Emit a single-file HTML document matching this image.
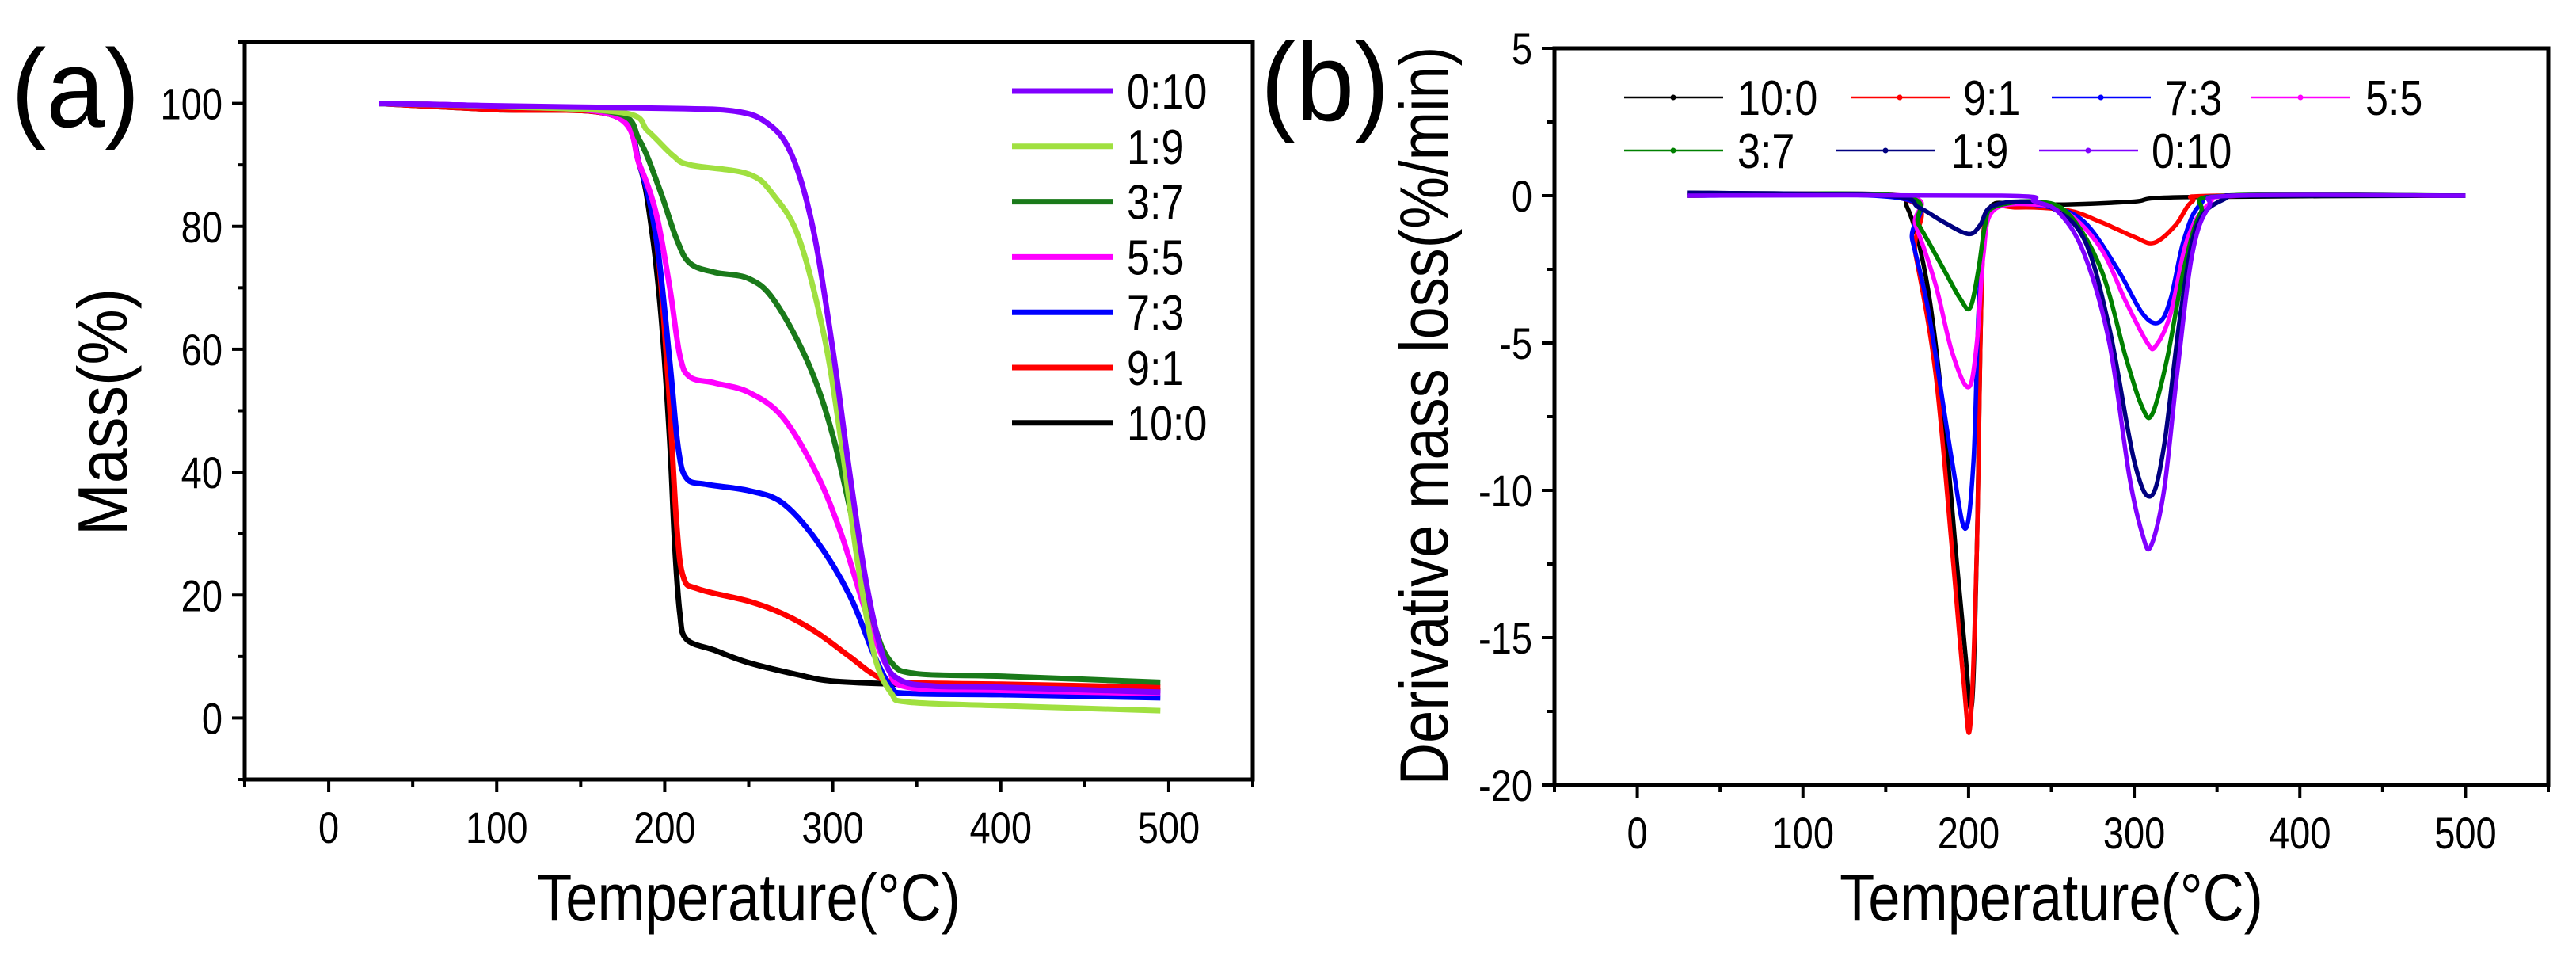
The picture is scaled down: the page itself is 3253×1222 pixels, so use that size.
<!DOCTYPE html>
<html><head><meta charset="utf-8"><style>
body{margin:0;background:#fff}
svg text{font-family:"Liberation Sans",sans-serif}
</style></head><body>
<svg id="fig" width="3253" height="1217" xmlns="http://www.w3.org/2000/svg">
<rect width="3253" height="1217" fill="#fff"/>
<g id="pa"></g>
<g id="pb"></g>
</svg>
<script>
const tgaNames=["10:0","9:1","7:3","5:5","3:7","1:9","0:10"];
const tgaColors=["#000000","#ff0000","#0000ff","#ff00ff","#1a7a1a","#a0e040","#8000ff"];
const tga10_0=[[30,100],[100,99],[170,98],[185,90],[192,80],[198,65],[203,45],[206,28],[209,17],[213,12.8],[230,11],[250,9],[280,7],[300,6],[340,5.5],[400,5],[495,4.5]];
const tga9_1=[[30,100],[100,99],[170,98],[185,90],[195,78],[202,55],[207,32],[211,23],[220,21],[250,19],[270,17],[290,14],[310,10],[325,7],[340,5.8],[400,5.5],[495,5]];
const tga7_3=[[30,100],[100,99.5],[170,98],[185,90],[195,78],[203,58],[208,44],[213,39],[225,38],[250,37],[270,35],[290,29],[310,20],[325,10],[335,5],[345,4],[400,3.8],[495,3.3]];
const tga5_5=[[30,100],[100,99.5],[170,98],[185,90],[195,82],[203,70],[209,59],[215,55.5],[230,54.5],[250,53],[270,49],[290,40],[305,30],[320,17],[333,8],[345,5],[400,4.5],[495,4]];
const tga3_7=[[30,100],[100,99.5],[170,98.5],[185,94],[197,86],[207,78],[215,74],[230,72.5],[250,71.5],[265,68],[285,58],[300,46],[315,28],[325,15],[335,9],[350,7.2],[400,6.8],[495,5.8]];
const tga1_9=[[30,100],[100,99.5],[175,98.5],[190,95.5],[205,91.5],[215,90],[250,88.5],[265,85],[280,78],[295,62],[305,45],[315,25],[325,10],[335,4],[345,2.6],[400,2],[495,1.2]];
const tga0_10=[[30,100],[100,99.6],[200,99.2],[240,98.8],[260,97],[275,92],[288,80],[300,60],[310,40],[320,22],[330,10],[340,6.2],[360,5.2],[400,5],[495,4.2]];
const tgaSeries=[tga10_0,tga9_1,tga7_3,tga5_5,tga3_7,tga1_9,tga0_10];
const tgaLegendOrder=[6,5,4,3,2,1,0];

const dtgColors=["#000000","#ff0000","#0000ff","#ff00ff","#008000","#000080","#8000ff"];
const dtg10_0=[[30,0.1],[150,0],[163,-0.4],[175,-3],[185,-7.5],[193,-12.5],[198,-15.5],[202,-17.3],[205,-12],[208,-3],[212,-0.5],[230,-0.3],[260,-0.3],[300,-0.2],[330,-0.05],[500,0]];
const dtg9_1=[[30,0],[160,-0.1],[168,-2],[180,-6],[190,-12],[197,-16.5],[201,-18],[205,-12],[208,-3],[212,-0.6],[230,-0.4],[260,-0.5],[280,-0.9],[300,-1.4],[312,-1.6],[325,-1],[335,-0.2],[350,0],[500,0]];
const dtg7_3=[[30,0],[160,-0.1],[166,-1.5],[176,-4],[190,-9],[198,-11.3],[203,-9],[206,-4],[210,-1],[220,-0.3],[250,-0.4],[270,-0.9],[290,-2.5],[305,-4],[315,-4.3],[322,-3.5],[330,-1.5],[340,-0.3],[360,0],[500,0]];
const dtg5_5=[[30,0],[160,0],[168,-1],[180,-3],[190,-5.3],[200,-6.5],[205,-5],[209,-2],[215,-0.5],[240,-0.3],[260,-0.6],[280,-1.8],[295,-3.6],[308,-5],[313,-5.1],[322,-4],[332,-1.5],[345,-0.3],[365,0],[500,0]];
const dtg3_7=[[30,0],[158,0],[170,-1],[185,-2.5],[195,-3.5],[201,-3.8],[206,-2.5],[210,-1],[215,-0.4],[240,-0.2],[260,-0.6],[280,-2.5],[295,-5.5],[305,-7.2],[311,-7.4],[320,-5.5],[330,-2.5],[340,-0.6],[355,0],[500,0]];
const dtg1_9=[[30,0.1],[150,0],[170,-0.4],[185,-0.9],[200,-1.3],[207,-1],[213,-0.4],[230,-0.2],[250,-0.4],[270,-1.5],[285,-4.5],[300,-9],[310,-10.2],[318,-8.5],[328,-4],[338,-1],[355,-0.1],[370,0],[500,0]];
const dtg0_10=[[30,0],[220,0],[240,-0.2],[255,-0.6],[270,-2],[285,-5],[297,-9.5],[305,-11.5],[310,-11.9],[318,-10],[326,-6],[335,-2],[345,-0.4],[360,0],[500,0]];
const dtgSeries=[dtg10_0,dtg9_1,dtg7_3,dtg5_5,dtg3_7,dtg1_9,dtg0_10];
const dtgLegendOrder=[0,1,2,3,4,5,6];

const xTicks=[0,100,200,300,400,500];
const yTicksA=[0,20,40,60,80,100];
const yTicksB=[5,0,-5,-10,-15,-20];

const NS="http://www.w3.org/2000/svg";
function el(tag,attrs,parent,txt){const e=document.createElementNS(NS,tag);for(const k in attrs)e.setAttribute(k,attrs[k]);if(txt!==undefined)e.textContent=txt;parent.appendChild(e);return e;}
function txt(parent,x,y,size,anchor,s,rot,sc){
  const tr="translate("+x+","+y+")"+(rot?" rotate(-90)":"")+" scale("+(sc||0.84)+",1)";
  return el("text",{x:0,y:0,"font-size":size,"text-anchor":anchor,transform:tr},parent,s);
}
function smooth(pts){let d="M"+pts[0][0]+","+pts[0][1];for(let i=0;i<pts.length-1;i++){const p0=pts[Math.max(0,i-1)],p1=pts[i],p2=pts[i+1],p3=pts[Math.min(pts.length-1,i+2)];const t=6;d+=" C"+(p1[0]+(p2[0]-p0[0])/t)+","+(p1[1]+(p2[1]-p0[1])/t)+" "+(p2[0]-(p3[0]-p1[0])/t)+","+(p2[1]-(p3[1]-p1[1])/t)+" "+p2[0]+","+p2[1];}return d;}

function panel(g,o){
  const sx=v=>o.L+(v-o.x0)/(o.x1-o.x0)*(o.R-o.L);
  const sy=v=>o.B-(v-o.y0)/(o.y1-o.y0)*(o.B-o.T);
  o.series.forEach((s,i)=>{
    const p=el("path",{d:smooth(s.map(q=>[sx(q[0]),sy(q[1])])),fill:"none",stroke:o.colors[i],"stroke-width":o.lw,"stroke-linejoin":"round"},g);
    
    
  });
  const f=el("rect",{x:o.L,y:o.T,width:o.R-o.L,height:o.B-o.T,fill:"none",stroke:"#000","stroke-width":5},g);
  
  
  for(let v=o.x0;v<=o.x1;v+=50){const major=v%100===0;
    el("line",{x1:sx(v),x2:sx(v),y1:o.B,y2:o.B+(major?16:9),stroke:"#000","stroke-width":4},g);}
  xTicks.forEach(v=>{const t=txt(g,sx(v),o.B+80,56,"middle",String(v));
    
    });
  for(let v=o.y0;v<=o.y1+0.001;v+=o.ym){const major=Math.abs(Math.round(v/o.yM)*o.yM-v)<1e-6;
    el("line",{x1:o.L,x2:o.L-(major?16:9),y1:sy(v),y2:sy(v),stroke:"#000","stroke-width":4},g);}
  o.yTicks.forEach(v=>{const t=txt(g,o.L-28,sy(v)+20,56,"end",String(v));
    
    });
  const xt=txt(g,(o.L+o.R)/2,1162,84,"middle","Temperature(°C)",false,0.86);
  
  
  const yt=txt(g,o.ytx,o.yty,o.ytSize,"middle",o.ytitle,true,o.ytScale);
  
  
  const pl=txt(g,o.plx,o.ply,140,"start",o.plabel,false,0.95);
  
  
  return {sx,sy};
}

const ga=document.getElementById("pa");
panel(ga,{L:309,R:1582,T:53,B:984,x0:-50,x1:550,y0:-10,y1:110,ym:10,yM:20,yTicks:yTicksA,series:tgaSeries,colors:tgaColors,names:tgaNames,lw:7,ytitle:"Mass(%)",ytSize:88,ytScale:0.9,ytx:160,yty:520,plabel:"(a)",plx:14,ply:160});
tgaLegendOrder.forEach((i,r)=>{const y=115+r*69.8;
  const l=el("line",{x1:1278,x2:1405,y1:y,y2:y,stroke:tgaColors[i],"stroke-width":7},ga);
  
  
  const t=txt(ga,1423,y+22,62,"start",tgaNames[i]);
  
  });

const gb=document.getElementById("pb");
panel(gb,{L:1963,R:3218,T:61,B:991,x0:-50,x1:550,y0:-20,y1:5,ym:2.5,yM:5,yTicks:yTicksB,series:dtgSeries,colors:dtgColors,names:tgaNames,lw:5.5,ytitle:"Derivative mass loss(%/min)",ytSize:86,ytScale:0.86,ytx:1828,yty:525,plabel:"(b)",plx:1592,ply:152});
const legPos=[[2051,2194,123],[2337,2479,123],[2591,2734,123],[2843,2987,123],[2051,2194,190],[2319,2464,190],[2575,2717,190]];
dtgLegendOrder.forEach((i,k)=>{const p=legPos[k];
  const l=el("line",{x1:p[0],x2:p[0]+125,y1:p[2],y2:p[2],stroke:dtgColors[i],"stroke-width":2.5},gb);
  
  
  el("circle",{cx:p[0]+62,cy:p[2],r:3.5,fill:dtgColors[i]},gb);
  const t=txt(gb,p[1],p[2]+22,62,"start",tgaNames[i]);
  
  });
</script>
</body></html>
